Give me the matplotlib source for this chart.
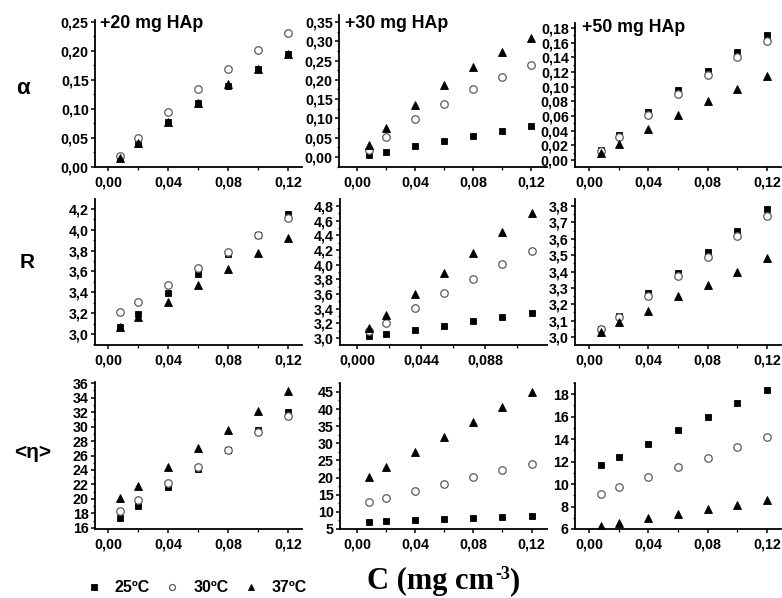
import matplotlib
matplotlib.use("Agg")
import matplotlib.pyplot as plt
from matplotlib.ticker import MultipleLocator, AutoMinorLocator, FuncFormatter

plt.rcParams["font.family"] = ["Liberation Sans", "DejaVu Sans"]
plt.rcParams["font.weight"] = "bold"

W, H = 782, 598

# concentration (mg cm-3)
C = [0.008, 0.02, 0.04, 0.06, 0.08, 0.10, 0.12]
TEMPS = ["25ºC", "30ºC", "37ºC"]

# each tuple: (25 C, 30 C, 37 C)
ALPHA_20 = ([0.015, 0.040, 0.077, 0.110, 0.140, 0.168, 0.194],
            [0.019, 0.050, 0.094, 0.134, 0.169, 0.201, 0.230],
            [0.016, 0.042, 0.078, 0.111, 0.142, 0.169, 0.195])
ALPHA_30 = ([0.005, 0.014, 0.028, 0.042, 0.055, 0.068, 0.080],
            [0.018, 0.051, 0.098, 0.137, 0.175, 0.208, 0.238],
            [0.031, 0.074, 0.135, 0.187, 0.232, 0.273, 0.308])
ALPHA_50 = ([0.014, 0.034, 0.066, 0.096, 0.122, 0.147, 0.170],
            [0.013, 0.032, 0.062, 0.090, 0.116, 0.140, 0.162],
            [0.009, 0.022, 0.042, 0.062, 0.080, 0.097, 0.114])

R_20 = ([3.07, 3.19, 3.39, 3.58, 3.77, 3.95, 4.15],
        [3.21, 3.31, 3.47, 3.63, 3.79, 3.95, 4.11],
        [3.07, 3.16, 3.31, 3.47, 3.62, 3.78, 3.92])
R_30 = ([3.03, 3.06, 3.11, 3.17, 3.23, 3.29, 3.34],
        [3.09, 3.21, 3.41, 3.61, 3.81, 4.01, 4.19],
        [3.14, 3.31, 3.60, 3.88, 4.16, 4.44, 4.70])
R_50 = ([3.05, 3.13, 3.27, 3.39, 3.52, 3.65, 3.78],
        [3.05, 3.12, 3.25, 3.37, 3.49, 3.62, 3.74],
        [3.03, 3.09, 3.16, 3.25, 3.32, 3.40, 3.48])

ETA_20 = ([17.4, 19.0, 21.6, 24.1, 26.8, 29.5, 32.0],
          [18.4, 19.9, 22.2, 24.4, 26.8, 29.2, 31.5],
          [20.2, 21.8, 24.4, 27.0, 29.5, 32.2, 34.9])
ETA_30 = ([7.1, 7.3, 7.6, 8.0, 8.3, 8.6, 8.8],
          [12.8, 13.9, 16.1, 18.0, 20.1, 22.1, 24.1],
          [20.2, 23.0, 27.5, 31.7, 36.2, 40.6, 45.0])
ETA_50 = ([11.7, 12.4, 13.6, 14.8, 16.0, 17.2, 18.4],
          [9.1, 9.7, 10.6, 11.5, 12.3, 13.3, 14.2],
          [6.3, 6.5, 7.0, 7.3, 7.8, 8.1, 8.6])


def rect(x0, x1, ytop, ybot):
    return [x0 / W, 1 - ybot / H, (x1 - x0) / W, (ybot - ytop) / H]


def comma(nd):
    return FuncFormatter(lambda v, p: f"{v:.{nd}f}".replace(".", ","))


# data, axes box, ylim, y step, y decimals, xlim, x step, x decimals
panels = [
    (ALPHA_20, rect(95, 302, 20, 167), (0, 0.253), 0.05, 2, (-0.0087, 0.1293), 0.04, 2),
    (ALPHA_30, rect(339, 547, 15, 167), (-0.026, 0.368), 0.05, 2, (-0.0124, 0.131), 0.04, 2),
    (ALPHA_50, rect(575, 781, 23, 167), (-0.0095, 0.187), 0.02, 2, (-0.0094, 0.1294), 0.04, 2),
    (R_20, rect(95, 302, 199, 345), (2.894, 4.296), 0.2, 1, (-0.0087, 0.1293), 0.04, 2),
    (R_30, rect(340, 547, 199, 345), (2.905, 4.895), 0.2, 1, (-0.0117, 0.1306), 0.044, 3),
    (R_50, rect(575, 781, 199, 345), (2.951, 3.843), 0.1, 1, (-0.0094, 0.1294), 0.04, 2),
    (ETA_20, rect(95, 302, 382, 529), (15.86, 36.14), 2, 0, (-0.0087, 0.1293), 0.04, 2),
    (ETA_30, rect(340, 547, 383, 529), (5, 47.6), 5, 0, (-0.0117, 0.1306), 0.04, 2),
    (ETA_50, rect(575, 781, 383, 529), (6, 19.0), 2, 0, (-0.0094, 0.1294), 0.04, 2),
]

styles = [
    dict(marker="s", ms=4.6, mfc="black", mec="black", mew=0.6),
    dict(marker="o", ms=5.4, mfc="white", mec="#5a5a5a", mew=0.9),
    dict(marker="^", ms=6.0, mfc="black", mec="black", mew=0.6),
]

fig = plt.figure(figsize=(W / 100, H / 100), dpi=100)

handles = []
for i, (series, box, ylim, ystep, ynd, xlim, xstep, xnd) in enumerate(panels):
    ax = fig.add_axes(box)
    for vals, st in zip(series, styles):
        (ln,) = ax.plot(C, vals, linestyle="none", **st)
        if i == 0:
            handles.append(ln)
    ax.set_xlim(*xlim)
    ax.set_ylim(*ylim)
    ax.yaxis.set_major_locator(MultipleLocator(ystep))
    ax.yaxis.set_minor_locator(AutoMinorLocator(2))
    ax.yaxis.set_major_formatter(comma(ynd))
    ax.xaxis.set_major_locator(MultipleLocator(xstep))
    ax.xaxis.set_minor_locator(AutoMinorLocator(2))
    ax.xaxis.set_major_formatter(comma(xnd))
    for s in ("top", "right"):
        ax.spines[s].set_visible(False)
    for s in ("left", "bottom"):
        ax.spines[s].set_linewidth(1.3)
    ax.tick_params(which="major", direction="out", length=3, width=1.1,
                   labelsize=10.3, pad=1.5)
    ax.tick_params(which="minor", direction="out", length=1.8, width=0.9)
    ax.tick_params(axis="x", which="major", pad=3)
    for lab in ax.get_xticklabels() + ax.get_yticklabels():
        lab.set_fontweight("bold")

# panel titles
for txt, x, y in [("+20 mg HAp", 100, 24), ("+30 mg HAp", 345, 24), ("+50 mg HAp", 582, 28)]:
    fig.text(x / W, 1 - y / H, txt, ha="left", va="center", fontsize=12.8, fontweight="bold")

# row labels
fig.text(23 / W, 1 - 88 / H, "α", ha="center", va="center", fontsize=16)
fig.text(27 / W, 1 - 263 / H, "R", ha="center", va="center", fontsize=15, fontweight="bold")
fig.text(33 / W, 1 - 452 / H, "<η>", ha="center", va="center", fontsize=15, fontweight="bold")

# x axis title: base text, small superscript, closing bracket
serif = dict(family="Liberation Serif", fontweight="bold")
renderer = fig.canvas.get_renderer()
base_y = 1 - 589 / H
t1 = fig.text(367 / W, base_y, "C (mg cm", ha="left", va="baseline", fontsize=22, **serif)
x_px = t1.get_window_extent(renderer).x1
t2 = fig.text(x_px / W + 1 / W, base_y + 10 / H, "-3", ha="left", va="baseline", fontsize=13, **serif)
x_px = t2.get_window_extent(renderer).x1
fig.text(x_px / W, base_y, ")", ha="left", va="baseline", fontsize=22, **serif)

fig.legend(handles, TEMPS, loc="center left", bbox_to_anchor=(78 / W, 1 - 588 / H),
           ncol=3, frameon=False, handlelength=1.0, handletextpad=0.8,
           columnspacing=0.9, borderpad=0, markerscale=0.8,
           prop=dict(weight="bold", size=11.5))

fig.savefig("out.png", dpi=100)
